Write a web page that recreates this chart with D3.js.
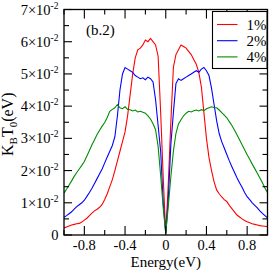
<!DOCTYPE html>
<html>
<head>
<meta charset="utf-8">
<script src="https://cdn.jsdelivr.net/npm/d3@7"></script>
<style>
  body { margin: 0; background: #fff; }
  svg { display: block; }
</style>
</head>
<body>
<svg id="chart" width="273" height="273"></svg>
<script>
// energy grid (eV)
var energy = d3.range(-40, 41).map(i => i / 40);

// K_B T_0 in units of 1e-2 eV
var red1 = [0.22, 0.25, 0.28, 0.31, 0.33, 0.35, 0.36, 0.40, 0.46, 0.52,
    0.60, 0.68, 0.75, 0.80, 0.86, 0.95, 1.10, 1.28, 1.50, 1.72,
    2.00, 2.30, 2.60, 2.90, 3.20, 3.70, 4.35, 5.00, 5.50, 5.75,
    5.80, 5.90, 6.05, 6.00, 6.10, 6.00, 5.90, 5.55, 3.80, 1.80,
    0.05,
    1.60, 3.50, 5.20, 5.60, 5.75, 5.90, 5.85, 5.80, 5.70, 5.60,
    5.45, 5.30, 5.05, 4.60, 3.80, 3.00, 2.40, 2.00, 1.65, 1.40,
    1.28, 1.18, 1.10, 1.04, 0.92, 0.82, 0.72, 0.62, 0.56, 0.50,
    0.45, 0.41, 0.38, 0.35, 0.33, 0.31, 0.29, 0.28, 0.27, 0.26];

var blue2 = [0.55, 0.60, 0.66, 0.72, 0.80, 0.88, 0.94, 1.00, 1.08, 1.20,
    1.32, 1.45, 1.60, 1.75, 1.90, 2.05, 2.24, 2.42, 2.60, 2.78,
    3.05, 3.70, 4.50, 5.00, 5.20, 5.15, 5.10, 5.05, 4.95, 4.90,
    4.85, 4.88, 4.82, 4.90, 4.85, 4.75, 4.20, 3.40, 2.60, 1.00,
    0.05,
    1.10, 2.80, 3.80, 4.70, 4.85, 4.80, 4.85, 4.90, 4.95, 5.00,
    5.05, 5.10, 5.05, 5.15, 5.20, 5.10, 4.95, 4.55, 4.05, 3.55,
    3.15, 2.90, 2.70, 2.50, 2.30, 2.12, 1.95, 1.78, 1.62, 1.48,
    1.32, 1.19, 1.10, 1.00, 0.92, 0.84, 0.75, 0.67, 0.60, 0.53];

var green4 = [1.30, 1.42, 1.55, 1.68, 1.82, 1.94, 2.05, 2.16, 2.28, 2.45,
    2.62, 2.80, 2.96, 3.12, 3.25, 3.38, 3.49, 3.65, 3.84, 3.90,
    3.95, 4.05, 3.95, 3.92, 3.98, 3.90, 3.89, 3.85, 3.88, 3.82,
    3.84, 3.81, 3.78, 3.70, 3.60, 3.45, 3.27, 2.75, 1.85, 0.85,
    0.05,
    0.90, 1.80, 2.60, 3.15, 3.45, 3.58, 3.70, 3.78, 3.84, 3.82,
    3.86, 3.88, 3.85, 3.89, 3.86, 3.92, 3.95, 3.98, 3.96, 3.95,
    3.88, 3.80, 3.72, 3.64, 3.52, 3.40, 3.26, 3.11, 2.96, 2.80,
    2.65, 2.49, 2.35, 2.20, 2.06, 1.92, 1.77, 1.62, 1.46, 1.31];

var seriesNames = ["1%", "2%", "4%"];
var seriesColors = ["#ff0000", "#0000ff", "#008c00"];
var seriesValues = [red1, blue2, green4];

var xTicks = [-0.8, -0.4, 0, 0.4, 0.8];
var yTicks = [0, 1, 2, 3, 4, 5, 6, 7];

var width = 273, height = 273;
var margin = { top: 9.5, right: 5.5, bottom: 38, left: 64 };
var serif = "'Liberation Serif', 'Times New Roman', serif";

var x = d3.scaleLinear().domain([-1, 1]).range([margin.left, width - margin.right]);
var y = d3.scaleLinear().domain([0, 7]).range([height - margin.bottom, margin.top]);

var svg = d3.select("#chart").attr("font-family", serif);

svg.append("clipPath").attr("id", "clip")
    .append("rect")
    .attr("x", margin.left).attr("y", margin.top)
    .attr("width", x(1) - x(-1)).attr("height", y(0) - y(7));

var line = d3.line()
    .x((d, i) => x(energy[i]))
    .y(d => y(d));

svg.append("g")
    .attr("clip-path", "url(#clip)")
    .selectAll("path")
    .data(seriesValues)
    .join("path")
    .attr("fill", "none")
    .attr("stroke", (d, i) => seriesColors[i])
    .attr("stroke-width", 1.1)
    .attr("d", line);

// ticks, inward on all four sides
var minorX = d3.range(-1, 1.0001, 0.2);
var minorY = d3.range(0, 7.0001, 0.5);

var tk = svg.append("g").attr("stroke", "#000").attr("stroke-width", 1.1);
minorX.forEach(function (v) {
    var major = xTicks.some(t => Math.abs(t - v) < 1e-6);
    var len = major ? 9 : 5;
    tk.append("line").attr("x1", x(v)).attr("x2", x(v)).attr("y1", y(0)).attr("y2", y(0) - len);
    tk.append("line").attr("x1", x(v)).attr("x2", x(v)).attr("y1", y(7)).attr("y2", y(7) + len);
});
minorY.forEach(function (v) {
    var major = Math.abs(v - Math.round(v)) < 1e-6;
    var len = major ? 8 : 5;
    tk.append("line").attr("x1", x(-1)).attr("x2", x(-1) + len).attr("y1", y(v)).attr("y2", y(v));
    tk.append("line").attr("x1", x(1)).attr("x2", x(1) - len).attr("y1", y(v)).attr("y2", y(v));
});

// frame
svg.append("rect")
    .attr("x", x(-1)).attr("y", y(7))
    .attr("width", x(1) - x(-1)).attr("height", y(0) - y(7))
    .attr("fill", "none").attr("stroke", "#000").attr("stroke-width", 1.3);

// x tick labels
svg.append("g").selectAll("text")
    .data(xTicks)
    .join("text")
    .attr("x", d => x(d))
    .attr("y", 249.5)
    .attr("text-anchor", "middle")
    .attr("font-size", 14.5)
    .text(d => d === 0 ? "0" : d.toFixed(1));

// y tick labels
var yl = svg.append("g").selectAll("text")
    .data(yTicks)
    .join("text")
    .attr("x", 58.5)
    .attr("y", d => y(d) + 5)
    .attr("text-anchor", "end")
    .attr("font-size", 14.5);
yl.each(function (d) {
    var t = d3.select(this);
    if (d === 0) { t.text("0"); return; }
    t.append("tspan").text(d + "×10");
    t.append("tspan").attr("font-size", 9.5).attr("dy", -6).text("-2");
});

// axis titles
svg.append("text")
    .attr("x", x(0)).attr("y", 267)
    .attr("text-anchor", "middle")
    .attr("font-size", 15)
    .text("Energy(eV)");

var ylab = svg.append("text")
    .attr("transform", "translate(13," + (y(3.5) + 2) + ") rotate(-90)")
    .attr("text-anchor", "middle")
    .attr("font-size", 16);
ylab.append("tspan").text("K");
ylab.append("tspan").attr("font-size", 11).attr("dy", 4).text("B");
ylab.append("tspan").attr("dy", -4).text("T");
ylab.append("tspan").attr("font-size", 11).attr("dy", 4).text("0");
ylab.append("tspan").attr("dy", -4).text("(eV)");

svg.append("text")
    .attr("x", 86).attr("y", 35)
    .attr("font-size", 15)
    .text("(b.2)");

// legend
var lg = svg.append("g");
lg.append("rect")
    .attr("x", 212.5).attr("y", 11.5)
    .attr("width", 54.5).attr("height", 57)
    .attr("fill", "#fff").attr("stroke", "#000").attr("stroke-width", 1.1);
var rows = lg.selectAll("g.row")
    .data(seriesNames)
    .join("g")
    .attr("transform", (d, i) => "translate(0," + (24.5 + i * 16.2) + ")");
rows.append("line")
    .attr("x1", 217).attr("x2", 237.5)
    .attr("stroke", (d, i) => seriesColors[i])
    .attr("stroke-width", 1.1);
rows.append("text")
    .attr("x", 246.5).attr("y", 5)
    .attr("font-size", 15)
    .text(d => d);
</script>
</body>
</html>
